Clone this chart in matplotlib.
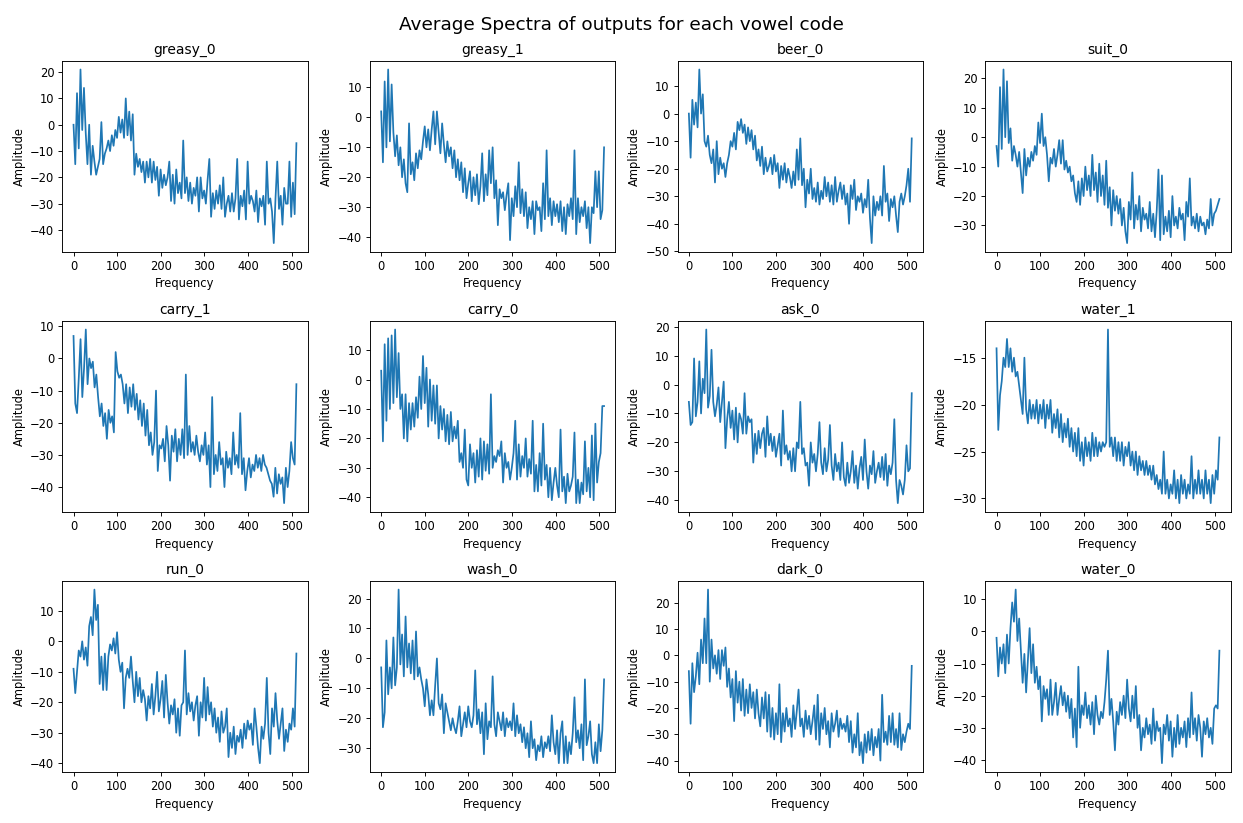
import numpy as np
import matplotlib
matplotlib.use("Agg")
import matplotlib.pyplot as plt

# vowel codes in plotting order
codes = ["greasy_0", "greasy_1", "beer_0", "suit_0",
         "carry_1", "carry_0", "ask_0", "water_1",
         "run_0", "wash_0", "dark_0", "water_0"]

# amplitudes (every ~4th frequency bin)
greasy_0 = [0, -15, 12, -9, 21, -2, 14, -3, -15, 0, -19, -8, -14, -19, -16, -13, 1, -15, -11, -9,
            -6, -10, -4, -8, -2, -5, 3, -3, 2, -5, 10, -4, 5, -6, 4, -19, -11, -16, -13, -18,
            -14, -22, -14, -20, -13, -22, -14, -21, -16, -27, -17, -24, -19, -23, -20, -14, -29, -19, -30, -17,
            -26, -22, -28, -6, -26, -20, -29, -22, -30, -24, -27, -20, -33, -20, -28, -25, -30, -21, -13, -35,
            -26, -32, -25, -30, -23, -32, -20, -35, -30, -27, -33, -26, -33, -28, -13, -36, -27, -31, -25, -36,
            -14, -30, -27, -29, -33, -25, -37, -28, -31, -27, -38, -14, -30, -28, -33, -45, -28, -14, -32, -27,
            -38, -24, -30, -30, -14, -35, -22, -34, -7]
greasy_1 = [2, -15, 12, -10, 16, -8, 11, -5, -13, -6, -16, -10, -20, -14, -22, -25, -2, -19, -15, -21,
            -12, -17, -11, -14, -8, -3, -10, -4, -11, -4, 2, -9, 2, -5, -12, -2, -9, -15, -8, -13,
            -10, -17, -11, -20, -14, -21, -15, -25, -17, -27, -22, -18, -28, -20, -26, -19, -29, -23, -12, -28,
            -19, -26, -11, -22, -10, -27, -21, -36, -24, -27, -25, -31, -26, -22, -41, -27, -33, -23, -30, -15,
            -32, -24, -33, -25, -37, -30, -34, -28, -39, -28, -31, -30, -38, -22, -34, -11, -33, -27, -36, -28,
            -33, -29, -35, -28, -38, -30, -39, -29, -33, -27, -34, -11, -39, -27, -35, -30, -33, -28, -37, -30,
            -42, -30, -32, -18, -30, -18, -34, -31, -10]
beer_0 = [0, -16, 5, -4, 4, -5, 16, 0, 7, -10, -12, -8, -15, -18, -13, -25, -10, -22, -16, -20,
          -18, -23, -18, -15, -10, -12, -7, -13, -3, -6, -2, -7, -4, -11, -5, -10, -6, -13, -8, -17,
          -13, -19, -12, -22, -16, -21, -19, -16, -22, -15, -21, -18, -27, -19, -24, -18, -25, -20, -23, -27,
          -21, -26, -13, -24, -9, -26, -20, -34, -24, -29, -20, -31, -27, -32, -25, -33, -28, -31, -23, -30,
          -25, -32, -26, -33, -23, -32, -28, -25, -31, -26, -33, -29, -40, -26, -31, -24, -35, -30, -32, -29,
          -36, -31, -34, -24, -38, -47, -30, -37, -32, -35, -30, -37, -19, -32, -29, -39, -31, -34, -30, -37,
          -43, -32, -29, -33, -30, -26, -20, -32, -9]
suit_0 = [-3, -10, 17, -4, 23, 0, 19, -2, 3, -8, -3, -6, -10, -5, -12, -19, -4, -13, -7, -10,
          -5, -8, -3, -6, 5, -2, 8, -3, 0, -6, -15, -7, -9, -4, -10, -6, -1, -9, -1, -11,
          -8, -12, -10, -15, -13, -19, -22, -15, -23, -14, -20, -10, -18, -13, -20, -6, -18, -12, -22, -9,
          -20, -13, -23, -8, -24, -17, -30, -18, -25, -20, -26, -21, -30, -24, -32, -36, -22, -28, -12, -31,
          -23, -28, -20, -32, -24, -28, -26, -31, -22, -32, -26, -34, -25, -11, -35, -13, -33, -27, -32, -25,
          -34, -20, -30, -27, -31, -24, -28, -26, -35, -22, -27, -14, -30, -27, -31, -26, -32, -27, -30, -29,
          -33, -28, -31, -21, -30, -26, -25, -23, -21]
carry_1 = [7, -14, -17, -6, 6, -12, -3, 9, -8, 0, -3, -1, -9, -5, -12, -18, -14, -21, -17, -25,
           -16, -20, -18, -23, 2, -4, -6, -5, -8, -14, -8, -17, -9, -15, -8, -16, -11, -19, -13, -21,
           -14, -24, -16, -27, -23, -30, -26, -10, -35, -27, -28, -25, -32, -21, -27, -38, -24, -29, -22, -32,
           -25, -30, -22, -31, -5, -30, -21, -29, -26, -30, -24, -29, -32, -27, -30, -23, -33, -27, -40, -12,
           -36, -30, -35, -26, -33, -31, -40, -29, -34, -31, -36, -23, -33, -30, -34, -17, -36, -31, -41, -35,
           -31, -37, -33, -35, -30, -34, -31, -35, -30, -33, -34, -36, -38, -39, -43, -34, -42, -36, -39, -37,
           -45, -34, -40, -35, -26, -31, -33, -8]
carry_0 = [3, -21, 12, -14, 14, -10, 15, -8, 17, -6, 9, -10, -5, -20, -5, -21, -8, -17, -8, -16,
           -6, -13, 1, -10, 8, -8, 4, -16, 0, -14, -2, -15, -2, -20, -9, -17, -10, -21, -12, -22,
           -11, -21, -16, -20, -14, -28, -25, -30, -17, -34, -36, -22, -30, -25, -35, -24, -33, -20, -34, -21,
           -31, -22, -32, -5, -30, -26, -28, -24, -26, -21, -35, -25, -30, -28, -34, -30, -25, -14, -34, -22,
           -33, -26, -30, -20, -33, -27, -32, -14, -38, -29, -38, -25, -36, -15, -34, -29, -40, -30, -41, -35,
           -30, -36, -40, -17, -38, -33, -42, -32, -38, -36, -33, -18, -42, -34, -42, -35, -39, -21, -38, -30,
           -40, -19, -41, -15, -35, -28, -25, -9, -9]
ask_0 = [-6, -14, -13, 9, -11, -6, 8, -10, 2, -3, 19, -8, -4, 12, -6, -11, -7, -1, -13, -6,
         1, -22, -12, -6, -15, -9, -19, -8, -20, -10, -12, -17, -3, -17, -11, -13, -12, -27, -17, -24,
         -16, -22, -17, -15, -25, -11, -21, -17, -23, -18, -25, -21, -17, -28, -9, -24, -21, -26, -23, -30,
         -22, -30, -20, -22, -6, -24, -22, -28, -27, -35, -20, -27, -24, -30, -24, -13, -27, -31, -22, -30,
         -26, -14, -28, -33, -24, -30, -27, -33, -20, -32, -35, -27, -34, -30, -23, -34, -28, -36, -29, -25,
         -33, -19, -30, -36, -28, -31, -23, -34, -30, -27, -32, -25, -33, -24, -35, -28, -31, -27, -12, -33,
         -41, -33, -35, -38, -33, -21, -30, -29, -3]
water_1 = [-14, -22.7, -19, -17.5, -15, -16, -13, -16, -14, -16.5, -15, -17, -16.5, -18, -19.5, -21, -15, -20.5, -22, -19.5,
           -21.5, -20, -21.5, -19.5, -22, -20, -21.5, -19.5, -22.5, -20, -21.5, -19.5, -23, -21, -22.5, -20.5, -23.5, -21, -24, -22,
           -23.5, -21.5, -24.5, -22.5, -25, -23, -25.5, -22.5, -26, -24, -26.5, -23.5, -25.5, -24, -26, -23, -25.5, -23.5, -25.5, -24,
           -25, -24, -24.5, -24, -12, -24.5, -23.5, -25.5, -23.5, -26, -24, -26, -24, -26.5, -24.5, -25.5, -24, -26.5, -25, -27,
           -25, -27.5, -25.5, -27, -26, -27.5, -26, -27.5, -26.5, -28, -26.5, -28.5, -27.5, -29, -28, -29.5, -25, -29.5, -28, -30,
           -28.5, -29.5, -27, -30, -28, -30.5, -27.5, -29.5, -28, -30, -28.5, -29.5, -25.5, -30, -28, -29.5, -27, -29.5, -28, -30,
           -27, -29.5, -28, -30.5, -27.5, -29.5, -27, -28, -23.5]
run_0 = [-9, -17, -10, -3, -5, 0, -6, -2, -8, 5, 8, 2, 17, 7, 12, -14, -5, -16, -4, -16,
         -5, -1, -3, 1, -4, 3, -6, -10, -7, -22, -12, -9, -12, -5, -13, -20, -10, -18, -12, -20,
         -16, -19, -26, -18, -22, -14, -24, -18, -10, -23, -19, -13, -25, -11, -20, -27, -21, -24, -19, -30,
         -22, -31, -21, -20, -3, -24, -17, -23, -20, -26, -21, -18, -31, -20, -25, -12, -26, -15, -24, -20,
         -28, -22, -30, -25, -33, -23, -30, -28, -22, -38, -30, -35, -28, -37, -31, -33, -29, -35, -27, -32,
         -26, -29, -27, -34, -22, -28, -35, -40, -28, -32, -27, -12, -30, -37, -22, -28, -17, -26, -32, -27,
         -22, -36, -29, -33, -27, -29, -22, -28, -4]
wash_0 = [-3, -23, -18, 6, -12, -3, -10, 7, -9, -3, 23, -2, 8, -6, 14, -3, 5, -5, 6, -7,
          9, -6, -3, -7, -10, -16, -7, -12, -19, -14, -19, -9, 0, -15, -17, -12, -25, -15, -18, -21,
          -24, -20, -23, -25, -21, -16, -26, -22, -18, -23, -16, -21, -23, -19, -4, -22, -17, -25, -18, -32,
          -15, -27, -21, -23, -6, -22, -26, -18, -21, -24, -18, -26, -20, -23, -21, -24, -15, -26, -19, -25,
          -22, -28, -23, -30, -25, -33, -21, -30, -27, -34, -29, -31, -26, -33, -28, -30, -26, -31, -19, -28,
          -32, -24, -35, -25, -21, -35, -26, -35, -28, -32, -25, -13, -28, -24, -30, -22, -34, -7, -29, -26,
          -21, -32, -35, -28, -35, -22, -31, -24, -7]
dark_0 = [-6, -26, -3, -14, -8, 1, -11, 6, -3, 14, -3, 25, -10, 6, -5, 0, -7, 2, -9, 2,
          -4, 3, -12, -5, -16, -9, -25, -6, -18, -10, -21, -9, -23, -13, -22, -11, -20, -14, -24, -13,
          -22, -27, -16, -24, -14, -29, -15, -31, -20, -32, -22, -30, -11, -33, -22, -29, -20, -27, -24, -31,
          -19, -28, -21, -13, -27, -24, -31, -21, -28, -23, -30, -25, -19, -32, -15, -34, -22, -28, -20, -30,
          -25, -35, -22, -29, -26, -21, -31, -24, -28, -26, -29, -23, -33, -25, -37, -30, -35, -22, -38, -33,
          -41, -30, -37, -29, -36, -28, -38, -31, -35, -28, -40, -15, -33, -29, -34, -23, -33, -22, -34, -28,
          -35, -22, -36, -30, -33, -29, -26, -28, -4]
water_0 = [-2, -14, -5, -10, -4, -13, -1, -10, 1, 9, 3, 13, -3, 4, -6, -16, -7, -19, -9, 1,
           -13, -4, -16, -11, -18, -14, -28, -17, -21, -18, -26, -15, -26, -22, -16, -26, -21, -17, -23, -19,
           -25, -20, -27, -21, -33, -24, -36, -11, -30, -23, -26, -19, -27, -23, -29, -22, -32, -20, -26, -29,
           -25, -27, -22, -15, -6, -26, -21, -28, -37, -25, -29, -22, -26, -20, -27, -15, -24, -28, -20, -27,
           -17, -30, -26, -37, -30, -33, -27, -32, -29, -35, -24, -34, -28, -31, -30, -41, -29, -32, -26, -34,
           -28, -39, -30, -36, -26, -35, -30, -33, -28, -36, -27, -33, -19, -32, -27, -34, -26, -30, -39, -28,
           -32, -27, -33, -30, -35, -24, -23, -24, -6]

spectra = [greasy_0, greasy_1, beer_0, suit_0,
           carry_1, carry_0, ask_0, water_1,
           run_0, wash_0, dark_0, water_0]

DPI = 83
fig, axes = plt.subplots(3, 4, figsize=(1243 / DPI, 823 / DPI), dpi=DPI)

for ax, code, amp in zip(axes.flat, codes, spectra):
    freq = np.linspace(0, 511, len(amp))
    ax.plot(freq, amp, color='#1f77b4', lw=1.5)
    ax.set_title(code)
    ax.set_xlabel('Frequency')
    ax.set_ylabel('Amplitude')

fig.suptitle('Average Spectra of outputs for each vowel code', fontsize=16)
plt.tight_layout()
plt.savefig('out.png', dpi=DPI)
